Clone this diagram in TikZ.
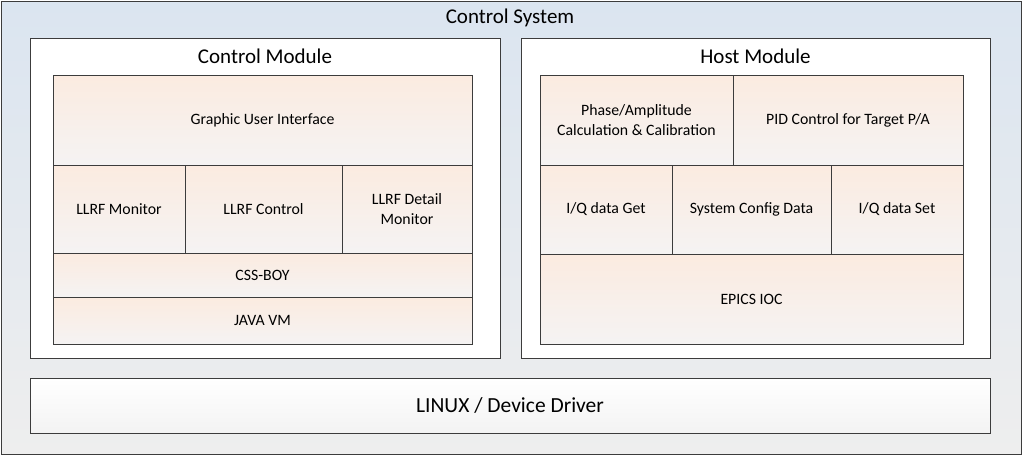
\documentclass[tikz,border=0pt]{standalone}
\usepackage{fontspec}
\setmainfont{Carlito}
\usepackage{tikz}
\usepackage{xcolor}
\definecolor{sysTop}{RGB}{219,229,240}
\definecolor{sysBot}{RGB}{238,238,238}
\definecolor{peach}{RGB}{251,235,224}
\definecolor{pale}{RGB}{245,243,243}
\definecolor{edge}{RGB}{60,60,60}
\tikzstyle{system} = [rectangle, draw=edge, line width=0.8pt, top color=sysTop, bottom color=sysBot, inner sep=0pt]
\tikzstyle{module} = [rectangle, draw=edge, line width=0.8pt, fill=white, inner sep=0pt]
\tikzstyle{layer} = [rectangle, draw=edge, line width=0.7pt, top color=peach, bottom color=pale, text centered, align=center, font=\fontsize{15.8}{20}\selectfont, inner sep=0pt]
\tikzstyle{driver} = [rectangle, draw=edge, line width=0.8pt, top color=white, bottom color=sysBot!70!white, font=\fontsize{21.5}{25}\selectfont, inner sep=0pt]
\tikzstyle{heading} = [font=\fontsize{21}{25}\selectfont, text=black]

\begin{document}
\begin{tikzpicture}[x=1pt, y=-1pt]
			\useasboundingbox (0,0) rectangle (1023,456);
			
			\node(sys) at (511, 227.5) [system, minimum width=1020pt, minimum height=453pt] {};
			\node(systitle) at (510, 18) [heading] {Control System};
			
			\node(cm) at (265, 198) [module, minimum width=470pt, minimum height=320pt] {};
			\node(hm) at (755.5, 198) [module, minimum width=469pt, minimum height=320pt] {};
			\node(cmtitle) at (265, 56) [heading] {Control Module};
			\node(hmtitle) at (755.5, 56) [heading] {Host Module};
			
			\node(gui) at (262.5, 120) [layer, minimum width=419pt, minimum height=90pt] {Graphic User Interface};
			\node(mon) at (119, 209) [layer, minimum width=132pt, minimum height=88pt] {LLRF Monitor};
			\node(ctl) at (263.5, 209) [layer, minimum width=157pt, minimum height=88pt] {LLRF Control};
			\node(det) at (407, 209) [layer, minimum width=130pt, minimum height=88pt] {LLRF Detail\\Monitor};
			\node(css) at (262.5, 275) [layer, minimum width=419pt, minimum height=44pt] {CSS-BOY};
			\node(jvm) at (262.5, 320.5) [layer, minimum width=419pt, minimum height=47pt] {JAVA VM};
			
			\node(pa) at (636.5, 120) [layer, minimum width=193pt, minimum height=90pt] {Phase/Amplitude\\Calculation \& Calibration};
			\node(pid) at (848, 120) [layer, minimum width=230pt, minimum height=90pt] {PID Control for Target P/A};
			\node(get) at (606, 209.5) [layer, minimum width=132pt, minimum height=89pt] {I/Q data Get};
			\node(cfg) at (751.5, 209.5) [layer, minimum width=159pt, minimum height=89pt] {System Config Data};
			\node(set) at (897, 209.5) [layer, minimum width=132pt, minimum height=89pt] {I/Q data Set};
			\node(epics) at (751.5, 299) [layer, minimum width=423pt, minimum height=90pt] {EPICS IOC};
			
			\node(linux) at (510, 405.5) [driver, minimum width=960pt, minimum height=55pt] {LINUX / Device Driver};
		\end{tikzpicture}
\end{document}
